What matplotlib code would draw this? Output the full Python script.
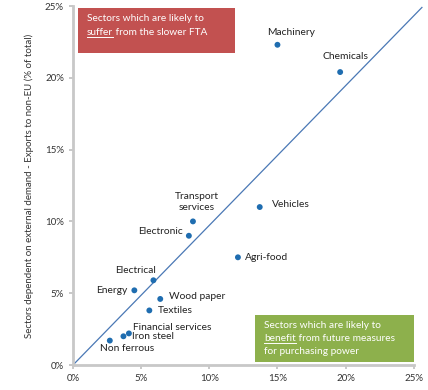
import matplotlib.pyplot as plt
from matplotlib.patches import Rectangle
from matplotlib.lines import Line2D
from matplotlib.ticker import FuncFormatter

# data (% of total)
sectors = ["Machinery", "Chemicals", "Vehicles", "Agri-food", "Transport\nservices",
           "Electronic", "Electrical", "Energy", "Wood paper", "Textiles",
           "Financial services", "Iron steel", "Non ferrous"]
x_vals = [15.0, 19.6, 13.7, 12.1, 8.8, 8.5, 5.9, 4.5, 6.4, 5.6, 4.1, 3.7, 2.7]
y_vals = [22.3, 20.4, 11.0, 7.5, 10.0, 9.0, 5.9, 5.2, 4.6, 3.8, 2.2, 2.0, 1.7]

# label placement: (dx, dy) in points, horizontal alignment
label_pos = [((10, 9), "center"), ((4, 11), "center"), ((9, 2), "left"),
             ((5, 0), "left"), ((3, 14), "center"), ((-4, 3), "right"),
             ((-13, 7), "center"), ((-5, 0), "right"), ((6, 2), "left"),
             ((6.5, 0), "left"), ((3, 4), "left"), ((6.5, 0), "left"),
             ((-7, -6), "left")]

plt.rcParams['font.family'] = ['Lato', 'DejaVu Sans']

fig = plt.figure(figsize=(4.28, 3.90), dpi=100)
ax = fig.add_axes([0.1706, 0.0641, 0.7961, 0.9205])

ax.plot([0, 25.6], [0, 24.9], color="#4a78b5", linewidth=0.9, clip_on=False, zorder=1)
ax.scatter(x_vals, y_vals, s=18, color="#1f6db0", zorder=3, edgecolors="none")

for name, xv, yv, (off, ha) in zip(sectors, x_vals, y_vals, label_pos):
    ax.annotate(name, (xv, yv), xytext=off, textcoords="offset points",
                ha=ha, va="center", fontsize=7.4, color="#222222",
                multialignment="center", linespacing=1.3)

ax.set_xlim(0, 25)
ax.set_ylim(0, 25)
ax.set_xticks(range(0, 26, 5))
ax.set_yticks(range(0, 26, 5))
pct = FuncFormatter(lambda v, p: f"{v:.0f}%")
ax.xaxis.set_major_formatter(pct)
ax.yaxis.set_major_formatter(pct)
ax.tick_params(labelsize=7, colors="#bfbfbf", labelcolor="#333333", length=3, width=1.2)

for s in ["top", "right"]:
    ax.spines[s].set_visible(False)
for s in ["left", "bottom"]:
    ax.spines[s].set_color("#c8c8c8")
    ax.spines[s].set_linewidth(2)

ax.set_ylabel("Sectors dependent on external demand - Exports to non-EU (% of total)",
              fontsize=7, color="#333333", labelpad=8)

renderer = fig.canvas.get_renderer()


def box_text(x, y_top, lines, step):
    # lines: list of (underlined_word or None, rest)
    for i, (word, rest) in enumerate(lines):
        y = y_top - i * step
        kw = dict(transform=ax.transAxes, ha="left", va="baseline",
                  fontsize=7.3, color="white", zorder=5)
        if word is None:
            ax.text(x, y, rest, **kw)
            continue
        t = ax.text(x, y, word, **kw)
        bb = t.get_window_extent(renderer)
        x0, y0 = ax.transAxes.inverted().transform((bb.x0, bb.y0))
        x1, _ = ax.transAxes.inverted().transform((bb.x1, bb.y0))
        _, yb = ax.transAxes.inverted().transform(
            (0, ax.transAxes.transform((0, y))[1] - 2))
        ax.add_line(Line2D([x0, x1], [yb, yb], transform=ax.transAxes,
                           color="white", linewidth=0.7, zorder=5))
        ax.text(x1, y, rest, **kw)


# annotation boxes (axes fraction)
ax.add_patch(Rectangle((0.015, 0.869), 0.46, 0.126, transform=ax.transAxes,
                       facecolor="#c25150", edgecolor="none", zorder=4))
box_text(0.04, 0.957, [(None, "Sectors which are likely to"),
                       ("suffer", " from the slower FTA")], 0.039)

ax.add_patch(Rectangle((0.534, 0.008), 0.466, 0.13, transform=ax.transAxes,
                       facecolor="#8db04c", edgecolor="none", zorder=4, clip_on=False))
box_text(0.56, 0.103, [(None, "Sectors which are likely to"),
                       ("benefit", " from future measures"),
                       (None, "for purchasing power")], 0.036)

fig.savefig("out.png", dpi=100)
